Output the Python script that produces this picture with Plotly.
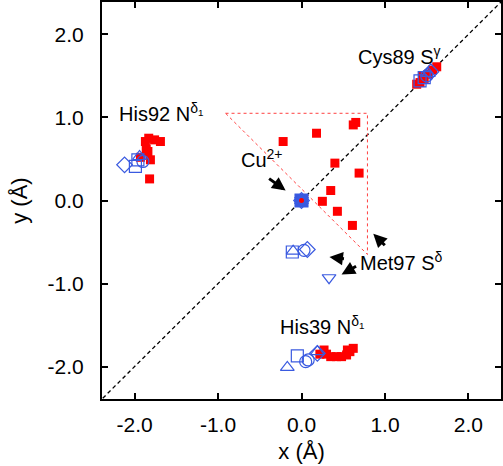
import plotly.graph_objects as go

# ---- data (Å) ----
red_x = [-1.83, -1.87, -1.76, -1.69, -1.84, -1.81, -1.82, -1.93, -1.86,
         1.38, 1.42, 1.47, 1.52, 1.57, 1.62, 1.45,
         0.22, 0.27, 0.30, 0.35, 0.42, 0.48, 0.54, 0.58, 0.62, 0.55,
         -0.22, 0.18, 0.62, 0.65, 0.40, 0.69, 0.35, 0.25, 0.43, 0.61]
red_y = [0.75, 0.71, 0.73, 0.71, 0.59, 0.49, 0.26, 0.52, 0.62,
         1.40, 1.42, 1.47, 1.52, 1.57, 1.61, 1.50,
         -1.85, -1.80, -1.85, -1.88, -1.88, -1.88, -1.86, -1.82, -1.78, -1.80,
         0.71, 0.81, 0.91, 0.94, 0.45, 0.33, 0.12, -0.01, -0.13, -0.30]

sq_x = [0.0, -1.99, -1.96, -0.11, -0.05, 1.47, 1.42]
sq_y = [0.0, 0.41, 0.49, -0.62, -1.87, 1.48, 1.44]
ci_x = [0.0, -1.90, 0.03, 0.05, 0.08, 1.50]
ci_y = [0.0, 0.47, -0.60, -1.94, -1.92, 1.50]
tu_x = [0.0, -1.94, -0.10, -0.17, 0.19, 1.52]
tu_y = [0.0, 0.53, -0.61, -2.01, -1.82, 1.53]
td_x = [0.33, 0.0]
td_y = [-0.93, 0.0]
di_x = [0.0, -2.12, 0.07, 0.19, 1.55]
di_y = [0.0, 0.43, -0.59, -1.84, 1.55]

cu_x = [0.0]
cu_y = [0.0]

tri_x = [-0.91, 0.79, 0.79, -0.91]
tri_y = [1.05, 1.05, -0.65, 1.05]

diag = [-2.5, 2.5]
ticks = [-2, -1, 0, 1, 2]
tick_text = ["-2.0", "-1.0", "0.0", "1.0", "2.0"]

BLUE = "#3a5ae0"
RED = "#ff0000"
FONT = "Liberation Sans, Arial, Helvetica, sans-serif"

fig = go.Figure()
fig.add_trace(go.Scatter(x=diag, y=diag, mode="lines",
                         line=dict(color="black", width=1.3, dash="4px,3px"), hoverinfo="skip"))
fig.add_trace(go.Scatter(x=tri_x, y=tri_y, mode="lines",
                         line=dict(color="#ff4040", width=1, dash="dot"), hoverinfo="skip"))
fig.add_trace(go.Scatter(x=cu_x, y=cu_y, mode="markers",
                         marker=dict(symbol="square", size=14, color=BLUE, line=dict(width=0))))
fig.add_trace(go.Scatter(x=red_x, y=red_y, mode="markers",
                         marker=dict(symbol="square", size=9, color=RED, line=dict(width=0))))
fig.add_trace(go.Scatter(x=cu_x, y=cu_y, mode="markers",
                         marker=dict(symbol="circle", size=5, color=RED, line=dict(width=0))))
for xs, ys, sym in [(sq_x, sq_y, "square-open"), (ci_x, ci_y, "circle-open"),
                    (tu_x, tu_y, "triangle-up-open"), (td_x, td_y, "triangle-down-open"),
                    (di_x, di_y, "diamond-open")]:
    fig.add_trace(go.Scatter(x=xs, y=ys, mode="markers",
                             marker=dict(symbol=sym, size=12, color=BLUE, line=dict(width=1.2, color=BLUE))))

labels = [
    (-1.68, 1.06, "His92 N<sup>δ<sub>1</sub></sup>"),
    (1.17, 1.75, "Cys89 S<sup>γ</sup>"),
    (-0.47, 0.51, "Cu<sup>2+</sup>"),
    (1.19, -0.74, "Met97 S<sup>δ</sup>"),
    (0.25, -1.51, "His39 N<sup>δ<sub>1</sub></sup>"),
]
ann = [dict(x=x, y=y, text=t, showarrow=False, font=dict(size=20, color="black", family=FONT))
       for x, y, t in labels]
arrows = [(-0.19, 0.12, -18, -13), (0.335, -0.68, 16, 2), (0.48, -0.89, 16, -9), (0.86, -0.40, 13, 13)]
for x, y, axp, ayp in arrows:
    ann.append(dict(x=x, y=y, ax=axp, ay=ayp, text="", showarrow=True, arrowhead=2,
                    arrowsize=0.9, arrowwidth=3, arrowcolor="black"))

axis_common = dict(range=[-2.39, 2.39], tickvals=ticks, ticktext=tick_text, showgrid=False,
                   zeroline=False, showline=True, linewidth=2, linecolor="black", mirror="ticks",
                   ticks="inside", ticklen=6, tickwidth=2, tickcolor="black", automargin=False,
                   tickfont=dict(size=21, color="black", family=FONT))
fig.update_layout(
    width=503, height=466, showlegend=False,
    paper_bgcolor="white", plot_bgcolor="white",
    margin=dict(l=102, r=2, t=2, b=67, autoexpand=False),
    xaxis=dict(**axis_common, ticklabelstandoff=6,
               title=dict(text="x (Å)", font=dict(size=22, family=FONT, color="black"), standoff=8)),
    yaxis=dict(**axis_common, ticklabelstandoff=12,
               title=dict(text="y (Å)", font=dict(size=22, family=FONT, color="black"), standoff=14)),
    annotations=ann,
    font=dict(family=FONT),
)
fig.write_html("out.html", config={"displayModeBar": False},
               post_script="document.body.style.margin='0';document.body.style.padding='0';")
